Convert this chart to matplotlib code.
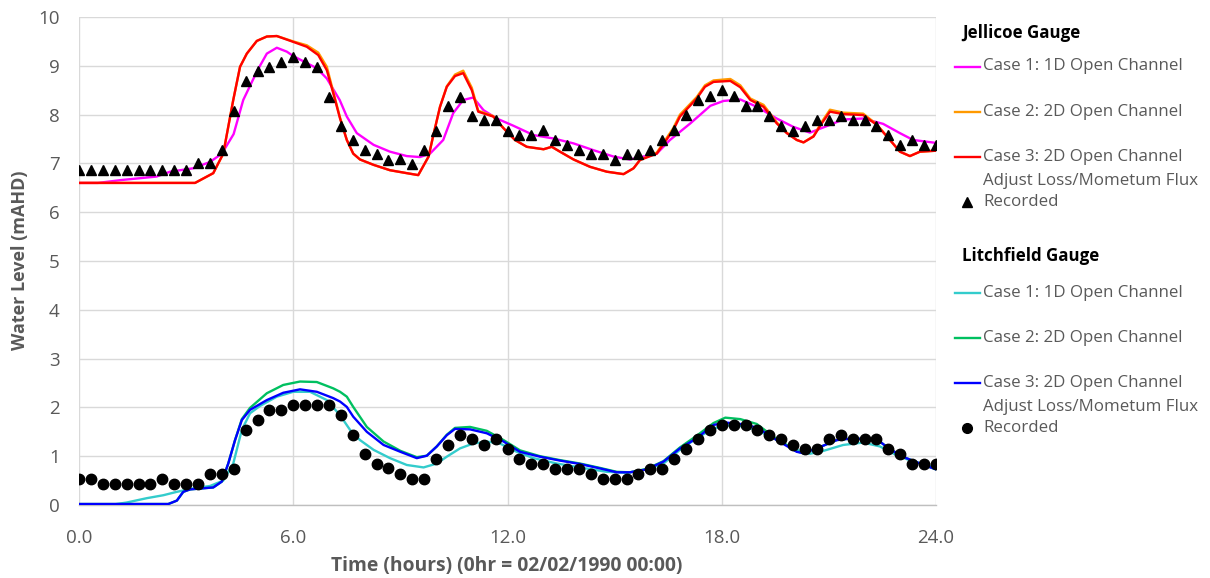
import matplotlib
matplotlib.use("Agg")
import matplotlib.pyplot as plt
from matplotlib.lines import Line2D

plt.rcParams['font.family'] = ['Open Sans', 'DejaVu Sans']

# ---------------- data ----------------
# Recorded values every 20 minutes (0 .. 24 h)
rec_step_h = 1.0 / 3.0
jel_recorded = [6.87, 6.87, 6.87, 6.87, 6.87, 6.87, 6.87, 6.87, 6.87, 6.87,
                7.0, 7.0, 7.27, 8.07, 8.68, 8.89, 8.98, 9.08, 9.19, 9.08,
                8.98, 8.37, 7.77, 7.48, 7.27, 7.19, 7.07, 7.08, 6.99, 7.27,
                7.67, 8.18, 8.37, 7.97, 7.89, 7.89, 7.67, 7.58, 7.58, 7.68,
                7.48, 7.38, 7.27, 7.19, 7.19, 7.07, 7.19, 7.19, 7.27, 7.48,
                7.68, 7.99, 8.30, 8.38, 8.50, 8.38, 8.18, 8.18, 7.97, 7.77,
                7.67, 7.77, 7.88, 7.88, 7.97, 7.88, 7.88, 7.77, 7.58, 7.38,
                7.48, 7.38, 7.38]
lit_recorded = [0.53, 0.53, 0.43, 0.43, 0.43, 0.43, 0.43, 0.54, 0.43, 0.43,
                0.43, 0.63, 0.63, 0.73, 1.54, 1.74, 1.95, 1.95, 2.05, 2.05,
                2.05, 2.05, 1.84, 1.44, 1.05, 0.84, 0.75, 0.64, 0.53, 0.53,
                0.94, 1.23, 1.43, 1.35, 1.23, 1.35, 1.14, 0.94, 0.84, 0.84,
                0.74, 0.74, 0.74, 0.64, 0.53, 0.53, 0.53, 0.64, 0.73, 0.73,
                0.94, 1.14, 1.35, 1.54, 1.64, 1.64, 1.64, 1.54, 1.43, 1.35,
                1.23, 1.14, 1.14, 1.35, 1.43, 1.35, 1.35, 1.35, 1.14, 1.05,
                0.84, 0.84, 0.84]
rec_time = [i * rec_step_h for i in range(len(jel_recorded))]

# Jellicoe simulated
jel_c1_t = [0, 0.53, 1.2, 2.17, 2.55, 3.2, 3.67, 4.0, 4.33, 4.6, 5.0, 5.26, 5.54,
            5.82, 6.0, 6.66, 6.94, 7.3, 7.5, 7.78, 8.25, 8.71, 9.18, 9.55, 9.83,
            10.2, 10.48, 10.76, 11.04, 11.33, 11.7, 12.17, 12.73, 13.29, 13.85,
            14.41, 14.97, 15.43, 16.18, 16.55, 17.12, 17.68, 18.05, 18.52, 18.98,
            19.54, 20.0, 20.47, 21.03, 21.4, 21.96, 22.52, 22.99, 23.36, 24.0]
jel_c1_v = [6.6, 6.6, 6.66, 6.73, 6.83, 6.9, 7.03, 7.2, 7.6, 8.3, 8.91, 9.25, 9.37,
            9.29, 9.2, 8.95, 8.74, 8.3, 7.96, 7.62, 7.38, 7.24, 7.15, 7.13, 7.2,
            7.48, 8.03, 8.3, 8.35, 8.09, 7.92, 7.77, 7.58, 7.51, 7.41,
            7.27, 7.14, 7.08, 7.2, 7.48, 7.82, 8.18, 8.28, 8.31, 8.16,
            7.92, 7.75, 7.63, 7.79, 7.9, 7.92, 7.81, 7.62, 7.48, 7.42]

jel_c23_t = [0, 3.25, 3.76, 4.04, 4.18, 4.32, 4.51, 4.7, 4.98, 5.26, 5.54, 6.0, 6.38,
             6.7, 6.94, 7.12, 7.31, 7.5, 7.68, 7.87, 8.25, 8.71, 9.18, 9.5, 9.79,
             9.93, 10.11, 10.3, 10.53, 10.76, 11.0, 11.18, 11.6, 11.89, 12.21,
             12.54, 13.01, 13.24, 13.47, 13.85, 14.31, 14.78, 15.25, 15.53, 15.71,
             16.18, 16.64, 16.83, 17.3, 17.53, 17.77, 18.24, 18.52, 18.8, 19.17,
             19.54, 19.82, 20.1, 20.29, 20.57, 20.8, 21.03, 21.4, 21.96, 22.34,
             22.71, 22.99, 23.27, 23.55, 24.0]
jel_c2_v = [6.6, 6.6, 6.8, 7.2, 7.75, 8.3, 8.98, 9.25, 9.51, 9.6, 9.61, 9.5, 9.42,
            9.27, 8.98, 8.47, 7.94, 7.48, 7.2, 7.08, 6.97, 6.86, 6.8, 6.76, 7.14,
            7.6, 8.16, 8.58, 8.82, 8.9, 8.55, 8.08, 7.97, 7.72, 7.48,
            7.34, 7.29, 7.34, 7.24, 7.08, 6.93, 6.83, 6.78, 6.9, 7.07,
            7.22, 7.72, 8.0, 8.36, 8.6, 8.7, 8.73, 8.6, 8.33, 8.2,
            7.84, 7.63, 7.48, 7.43, 7.56, 7.85, 8.1, 8.04, 8.02, 7.8,
            7.48, 7.24, 7.15, 7.24, 7.26]
jel_c3_v = [6.6, 6.6, 6.8, 7.2, 7.75, 8.3, 8.98, 9.25, 9.51, 9.6, 9.61, 9.49, 9.39,
            9.22, 8.91, 8.44, 7.92, 7.48, 7.2, 7.08, 6.97, 6.86, 6.8, 6.76, 7.14,
            7.6, 8.16, 8.57, 8.79, 8.85, 8.5, 8.06, 7.96, 7.72, 7.48,
            7.34, 7.29, 7.34, 7.24, 7.08, 6.93, 6.83, 6.78, 6.9, 7.07,
            7.2, 7.68, 7.96, 8.33, 8.57, 8.67, 8.69, 8.56, 8.3, 8.16,
            7.82, 7.62, 7.48, 7.43, 7.55, 7.82, 8.06, 8.01, 7.99, 7.79,
            7.48, 7.24, 7.15, 7.24, 7.26]

# Litchfield simulated
lit_c1_t = [0, 0.87, 1.33, 1.9, 2.36, 2.74, 3.2, 3.67, 4.04, 4.32, 4.56, 4.79, 5.07,
            5.54, 6.0, 6.47, 6.94, 7.31, 7.59, 7.87, 8.25, 8.71, 9.18, 9.65, 10.02,
            10.3, 10.67, 11.04, 11.42, 11.79, 12.26, 12.73, 13.38, 14.03, 14.78,
            15.34, 15.9, 16.37, 16.83, 17.3, 17.77, 18.24, 18.71, 19.17, 19.64,
            20.1, 20.47, 20.85, 21.4, 21.96, 22.43, 22.9, 23.36, 24.0]
lit_c1_v = [0.0, 0.0, 0.05, 0.14, 0.2, 0.27, 0.34, 0.39, 0.5, 0.85, 1.54, 1.88, 2.03,
            2.22, 2.32, 2.32, 2.15, 1.84, 1.54, 1.33, 1.13, 0.96, 0.82, 0.77, 0.85,
            0.99, 1.16, 1.26, 1.3, 1.26, 1.09, 0.96, 0.85, 0.77, 0.68,
            0.66, 0.73, 0.85, 1.13, 1.37, 1.57, 1.64, 1.6, 1.47, 1.3,
            1.13, 1.05, 1.11, 1.23, 1.28, 1.2, 1.02, 0.89, 0.77]

lit_c23_t = [0, 2.5, 2.74, 2.92, 3.11, 3.76, 4.0, 4.18, 4.37, 4.56, 4.79, 5.26, 5.72,
             6.19, 6.66, 7.12, 7.31, 7.5, 7.68, 8.06, 8.53, 9.0, 9.46, 9.74, 10.02,
             10.3, 10.53, 10.95, 11.42, 11.89, 12.35, 12.91, 13.47, 14.03, 14.59,
             15.06, 15.43, 15.9, 16.37, 16.83, 17.3, 17.77, 18.1, 18.52, 18.98,
             19.54, 20.1, 20.29, 20.66, 21.22, 21.59, 22.34, 22.71, 23.17, 23.55, 24.0]
lit_c2_v = [0.02, 0.02, 0.09, 0.27, 0.32, 0.36, 0.48, 0.85, 1.33, 1.76, 1.99, 2.29, 2.46,
            2.53, 2.52, 2.39, 2.32, 2.22, 2.01, 1.6, 1.3, 1.11, 0.98, 1.01, 1.2,
            1.44, 1.58, 1.6, 1.52, 1.33, 1.12, 1.0, 0.92, 0.85, 0.76,
            0.68, 0.67, 0.74, 0.9, 1.18, 1.42, 1.68, 1.79, 1.76, 1.66,
            1.35, 1.1, 1.06, 1.16, 1.33, 1.36, 1.35, 1.14, 0.96, 0.85, 0.73]
lit_c3_v = [0.02, 0.02, 0.09, 0.27, 0.32, 0.36, 0.48, 0.85, 1.33, 1.74, 1.95, 2.15, 2.3,
            2.37, 2.32, 2.19, 2.12, 2.01, 1.81, 1.5, 1.23, 1.09, 0.96, 1.01, 1.2,
            1.43, 1.56, 1.55, 1.47, 1.3, 1.09, 0.99, 0.91, 0.84, 0.75,
            0.67, 0.67, 0.73, 0.89, 1.16, 1.37, 1.64, 1.69, 1.66, 1.59,
            1.33, 1.09, 1.06, 1.16, 1.33, 1.36, 1.35, 1.14, 0.96, 0.85, 0.73]

x_ticks = [0, 6, 12, 18, 24]
x_tick_labels = ["0.0", "6.0", "12.0", "18.0", "24.0"]
y_ticks = list(range(0, 11))

legend_jel = ["Case 1: 1D Open Channel", "Case 2: 2D Open Channel",
              "Case 3: 2D Open Channel\nAdjust Loss/Mometum Flux", "Recorded"]
legend_lit = ["Case 1: 1D Open Channel", "Case 2: 2D Open Channel",
              "Case 3: 2D Open Channel\nAdjust Loss/Mometum Flux", "Recorded"]

# ---------------- style ----------------
C_MAG = "#FF00FF"
C_ORA = "#FF9900"
C_RED = "#FF0000"
C_CYA = "#33CCCC"
C_GRN = "#00C060"
C_BLU = "#0000FF"
GRID = "#D9D9D9"
TXT = "#595959"
LW = 1.7

W, H = 1210, 578
fig = plt.figure(figsize=(W / 100, H / 100), dpi=100)
ax = fig.add_axes([79 / W, 1 - 505 / H, (936 - 79) / W, (505 - 17) / H])

ax.plot(jel_c1_t, jel_c1_v, color=C_MAG, lw=LW, zorder=3)
ax.plot(jel_c23_t, jel_c2_v, color=C_ORA, lw=LW, zorder=3)
ax.plot(jel_c23_t, jel_c3_v, color=C_RED, lw=LW, zorder=3)
ax.plot(rec_time, jel_recorded, ls='none', marker='^', ms=7.5, color='black', zorder=4)

ax.plot(lit_c1_t, lit_c1_v, color=C_CYA, lw=LW, zorder=3)
ax.plot(lit_c23_t, lit_c2_v, color=C_GRN, lw=LW, zorder=3)
ax.plot(lit_c23_t, lit_c3_v, color=C_BLU, lw=LW, zorder=3)
ax.plot(rec_time, lit_recorded, ls='none', marker='o', ms=7.5, color='black', zorder=4)

ax.set_xlim(0, 24)
ax.set_ylim(0, 10)
ax.set_xticks(x_ticks)
ax.set_xticklabels(x_tick_labels)
ax.set_yticks(y_ticks)
ax.grid(True, color=GRID, lw=1.0, zorder=0)
ax.set_axisbelow(True)
for s in ['top', 'right', 'left']:
    ax.spines[s].set_visible(False)
ax.spines['bottom'].set_color("#BFBFBF")
ax.spines['bottom'].set_linewidth(1.0)
ax.tick_params(length=0, labelsize=13.5, labelcolor=TXT)
ax.tick_params(axis='y', pad=14)
ax.tick_params(axis='x', pad=17)

fig.text(507 / W, 1 - 566 / H, "Time (hours) (0hr = 02/02/1990 00:00)", ha='center',
         va='center', fontsize=13.9, fontweight='bold', color=TXT)
fig.text(20 / W, 1 - 260 / H, "Water Level (mAHD)", ha='center', va='center',
         rotation=90, fontsize=13, fontweight='bold', color=TXT)

# ---------------- legend (manual) ----------------
def fx(px):
    return px / W

def fy(py):
    return 1 - py / H

LFS = 12.2
TX = 983

def title(py, s):
    fig.text(fx(962), fy(py), s, ha='left', va='center', fontsize=LFS,
             fontweight='bold', color='black')

def line_entry(py, color, s):
    fig.add_artist(Line2D([fx(955), fx(980)], [fy(py), fy(py)], color=color, lw=LW,
                          transform=fig.transFigure))
    fig.text(fx(TX), fy(py), s, ha='left', va='center', fontsize=LFS, color=TXT)

def marker_entry(py, marker, s):
    fig.add_artist(Line2D([fx(967)], [fy(py)], marker=marker, ms=7, color='black',
                          ls='none', transform=fig.transFigure))
    fig.text(fx(TX), fy(py), s, ha='left', va='center', fontsize=LFS, color=TXT)

title(33, "Jellicoe Gauge")
line_entry(66.5, C_MAG, legend_jel[0])
line_entry(111.7, C_ORA, legend_jel[1])
case3a, case3b = legend_jel[2].split("\n")
line_entry(157.3, C_RED, case3a)
fig.text(fx(TX), fy(180.7), case3b, ha='left', va='center', fontsize=LFS, color=TXT)
marker_entry(202.3, '^', legend_jel[3])

title(256, "Litchfield Gauge")
line_entry(293.3, C_CYA, legend_lit[0])
line_entry(338.3, C_GRN, legend_lit[1])
l3a, l3b = legend_lit[2].split("\n")
line_entry(383.3, C_BLU, l3a)
fig.text(fx(TX), fy(407.3), l3b, ha='left', va='center', fontsize=LFS, color=TXT)
marker_entry(428.3, 'o', legend_lit[3])

fig.savefig("out.png", dpi=100, facecolor='white')
